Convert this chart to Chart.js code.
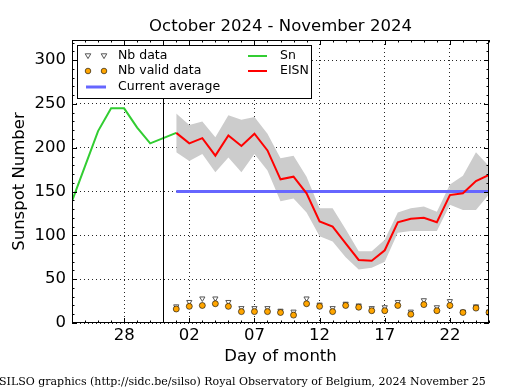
<!DOCTYPE html>
<html>
<head>
<meta charset="utf-8">
<script src="https://cdn.jsdelivr.net/npm/chart.js@4"></script>
<style>
  body { margin: 0; background: #fff; }
  canvas { display: block; }
</style>
</head>
<body>
<canvas id="myChart" width="515" height="390"></canvas>
<script>
// days counted from Oct 1 (Nov 1 = 32)
const snDays = [24, 25, 26, 27, 28, 29, 30, 31, 32];
const snValues = [139, 179, 219, 245, 245, 223, 205, 211, 217];

const eisnDays = [32, 33, 34, 35, 36, 37, 38, 39, 40, 41, 42, 43, 44, 45, 46, 47, 48, 49, 50, 51, 52, 53, 54, 55, 56];
const eisnValues = [217, 205, 211, 191, 214, 202, 216, 197, 164, 167, 148, 116, 110, 91, 72, 71, 83, 115, 119, 120, 115, 146, 148, 162, 169];
const eisnUpper = [239, 226, 230, 212, 237, 232, 235, 216, 188, 191, 167, 131, 131, 107, 82, 82, 95, 126, 131, 133, 127, 158, 168, 195, 179];
const eisnLower = [195, 185, 193, 172, 189, 172, 193, 174, 139, 142, 126, 99, 93, 75, 61, 63, 70, 103, 105, 105, 105, 135, 129, 129, 147];

const nbData = [19, 24, 28, 28, 24, 17, 17, 17, 14, 13, 28, 21, 17, 22, 20, 17, 18, 24, 13, 26, 18, 25, 13, 19, 13];
const nbValid = [16, 19, 20, 22, 19, 13, 13, 13, 12, 9, 22, 19, 13, 20, 18, 14, 14, 20, 10, 21, 14, 20, 12, 17, 12];

const currentAverage = 150;
const monthBoundary = 31;

const xTicks = [28, 33, 38, 43, 48, 53];
const yTicks = [0, 50, 100, 150, 200, 250, 300];

const xy = (xs, ys) => xs.map((x, i) => ({x: x, y: ys[i]}));
const FONT = 'DejaVu Sans';

const boxPlugin = {
    id: 'box',
    afterDatasetsDraw(chart) {
        const {ctx, chartArea: a, scales} = chart;
        const x = scales.x, y = scales.y;
        ctx.save();
        // month boundary
        ctx.strokeStyle = '#000';
        ctx.lineWidth = 1;
        const bx = Math.round(x.getPixelForValue(monthBoundary)) + 0.5;
        ctx.beginPath(); ctx.moveTo(bx, a.top); ctx.lineTo(bx, a.bottom); ctx.stroke();
        // frame
        ctx.strokeRect(a.left + 0.5, a.top + 0.5, a.right - a.left - 1, a.bottom - a.top - 1);
        // tick marks inside
        ctx.beginPath();
        for (let d = 24; d <= 56; d++) {
            const px = Math.round(x.getPixelForValue(d)) + 0.5;
            const len = xTicks.includes(d) ? 5 : 2.5;
            ctx.moveTo(px, a.bottom); ctx.lineTo(px, a.bottom - len);
            ctx.moveTo(px, a.top); ctx.lineTo(px, a.top + len);
        }
        for (let v = 0; v <= 320; v += 10) {
            const py = Math.round(y.getPixelForValue(v)) + 0.5;
            const len = v % 50 === 0 ? 5 : 2.5;
            ctx.moveTo(a.left, py); ctx.lineTo(a.left + len, py);
            ctx.moveTo(a.right, py); ctx.lineTo(a.right - len, py);
        }
        ctx.stroke();

        // legend
        const lx = 77.5, ly = 45.5, lw = 234, lh = 53;
        ctx.fillStyle = '#fff';
        ctx.fillRect(lx, ly, lw, lh);
        ctx.strokeRect(lx, ly, lw, lh);
        ctx.font = '12.5px "' + FONT + '"';
        ctx.textBaseline = 'middle';
        ctx.fillStyle = '#000';
        const rows = [56, 71, 87];
        ctx.fillText('Nb data', 118, rows[0]);
        ctx.fillText('Nb valid data', 118, rows[1]);
        ctx.fillText('Current average', 118, rows[2]);
        ctx.fillText('Sn', 280, rows[0]);
        ctx.fillText('EISN', 280, rows[1]);
        [88, 104].forEach(mx => {
            // down triangle
            ctx.beginPath();
            ctx.moveTo(mx - 2.8, rows[0] - 2.2);
            ctx.lineTo(mx + 2.8, rows[0] - 2.2);
            ctx.lineTo(mx, rows[0] + 2.6);
            ctx.closePath();
            ctx.fillStyle = '#fff'; ctx.fill();
            ctx.strokeStyle = '#555'; ctx.stroke();
            ctx.beginPath();
            ctx.arc(mx, rows[1], 2.8, 0, Math.PI * 2);
            ctx.fillStyle = '#ffa500'; ctx.fill();
            ctx.strokeStyle = '#000'; ctx.lineWidth = 0.6; ctx.stroke();
            ctx.lineWidth = 1;
        });
        const seg = (x1, x2, yy, col, w) => {
            ctx.strokeStyle = col; ctx.lineWidth = w;
            ctx.beginPath(); ctx.moveTo(x1, yy); ctx.lineTo(x2, yy); ctx.stroke();
        };
        seg(86, 106, rows[2], '#6666ff', 3);
        seg(248, 267, rows[0], '#32cd32', 2);
        seg(248, 267, rows[1], '#ff0000', 2);

        // titles
        ctx.fillStyle = '#000';
        ctx.textAlign = 'center';
        ctx.font = '16.5px "' + FONT + '"';
        ctx.fillText('October 2024 - November 2024', (a.left + a.right) / 2, 27);
        ctx.fillText('Day of month', (a.left + a.right) / 2, 357);
        ctx.save();
        ctx.translate(20, (a.top + a.bottom) / 2);
        ctx.rotate(-Math.PI / 2);
        ctx.fillText('Sunspot Number', 0, 0);
        ctx.restore();
        ctx.textAlign = 'left';
        ctx.font = '11px "DejaVu Serif"';
        ctx.fillText('SILSO graphics (http://sidc.be/silso) Royal Observatory of Belgium, 2024 November 25', -1, 382);
        ctx.restore();
    }
};

new Chart(document.getElementById('myChart'), {
    type: 'line',
    data: {
        datasets: [
            {
                label: 'upper',
                data: xy(eisnDays, eisnUpper),
                borderWidth: 0,
                pointRadius: 0,
                backgroundColor: 'rgb(204, 204, 204)',
                fill: '+1',
                order: 5
            },
            {
                label: 'lower',
                data: xy(eisnDays, eisnLower),
                borderWidth: 0,
                pointRadius: 0,
                fill: false,
                order: 5
            },
            {
                label: 'Current average',
                data: [{x: eisnDays[0], y: currentAverage}, {x: eisnDays[eisnDays.length - 1], y: currentAverage}],
                borderColor: '#6666ff',
                borderWidth: 3,
                pointRadius: 0,
                order: 3
            },
            {
                label: 'Sn',
                data: xy(snDays, snValues),
                borderColor: '#32cd32',
                borderWidth: 2,
                pointRadius: 0,
                order: 2
            },
            {
                label: 'EISN',
                data: xy(eisnDays, eisnValues),
                borderColor: '#ff0000',
                borderWidth: 2,
                pointRadius: 0,
                order: 1
            },
            {
                label: 'Nb data',
                data: xy(eisnDays, nbData),
                showLine: false,
                pointStyle: 'triangle',
                rotation: 180,
                pointRadius: 3,
                pointBackgroundColor: '#fff',
                pointBorderColor: '#555',
                pointBorderWidth: 1,
                order: 1
            },
            {
                label: 'Nb valid data',
                data: xy(eisnDays, nbValid),
                showLine: false,
                pointStyle: 'circle',
                pointRadius: 3,
                pointBackgroundColor: '#ffa500',
                pointBorderColor: '#000',
                pointBorderWidth: 0.6,
                order: 0
            }
        ]
    },
    options: {
        responsive: false,
        animation: false,
        layout: { padding: { top: 40, right: 26, left: 0, bottom: 0 } },
        plugins: {
            legend: { display: false },
            tooltip: { enabled: false }
        },
        elements: { line: { tension: 0 } },
        scales: {
            x: {
                type: 'linear',
                min: 24,
                max: 56,
                afterBuildTicks: s => { s.ticks = xTicks.map(v => ({value: v})); },
                afterFit: s => { s.height = 67; },
                ticks: {
                    color: '#000',
                    font: { family: FONT, size: 16.5 },
                    padding: 3,
                    maxRotation: 0,
                    callback: v => String(v > 31 ? v - 31 : v).padStart(2, '0')
                },
                grid: {
                    color: 'rgba(0,0,0,0.85)',
                    lineWidth: 1,
                    drawTicks: false
                },
                border: { display: false, dash: [1, 3] }
            },
            y: {
                min: 0,
                max: 323,
                afterBuildTicks: s => { s.ticks = yTicks.map(v => ({value: v})); },
                afterFit: s => { s.width = 72; },
                ticks: {
                    color: '#000',
                    font: { family: FONT, size: 16.5 },
                    padding: 6
                },
                grid: {
                    color: 'rgba(0,0,0,0.85)',
                    lineWidth: 1,
                    drawTicks: false
                },
                border: { display: false, dash: [1, 3] }
            }
        }
    },
    plugins: [boxPlugin]
});
</script>
</body>
</html>
